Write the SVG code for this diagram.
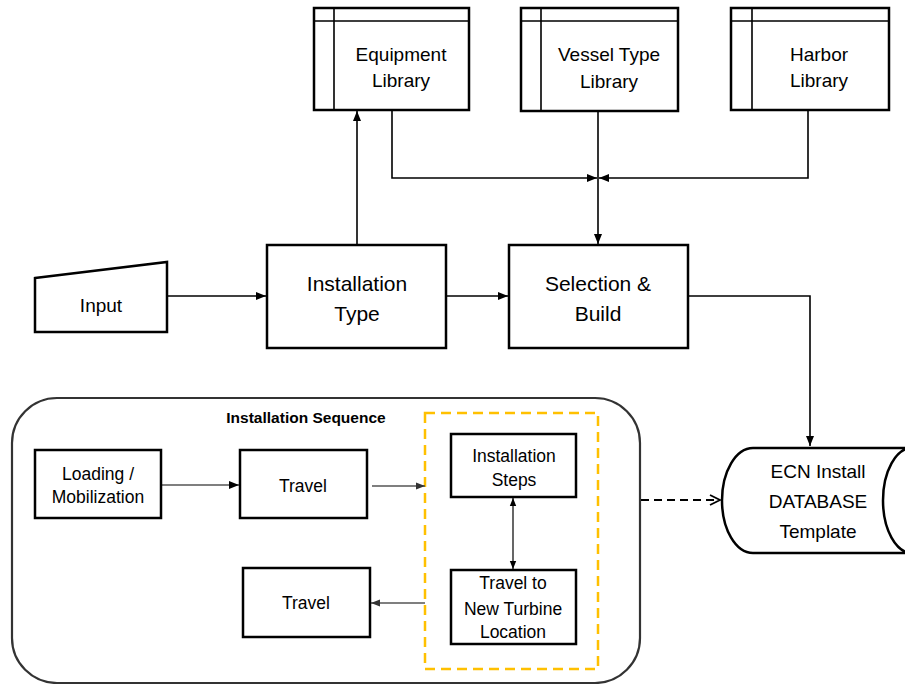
<svg xmlns="http://www.w3.org/2000/svg" width="905" height="684" viewBox="0 0 905 684">
<style>
.box{fill:#fff;stroke:#000;stroke-width:2.5}
.sbox{fill:#fff;stroke:#000;stroke-width:2.5}
.t{font-family:"Liberation Sans",Arial,sans-serif;fill:#000;text-anchor:middle}
.big{font-size:21px}
.lib{font-size:19px}
.sm{font-size:17.5px}
.hdr{font-size:15.5px;font-weight:bold}
.ln{fill:none;stroke:#000;stroke-width:1.6}
.thin{fill:none;stroke:#000;stroke-width:1.2}
.gray{fill:none;stroke:#555;stroke-width:1.4}
</style>
<defs>
<marker id="ah" markerUnits="userSpaceOnUse" markerWidth="10" markerHeight="10" viewBox="0 0 10 10" refX="10" refY="5" orient="auto">
<path d="M0,1 L10,5 L0,9 Z" fill="#000"/>
</marker>
<marker id="ahs" markerUnits="userSpaceOnUse" markerWidth="8" markerHeight="8" viewBox="0 0 10 10" refX="10" refY="5" orient="auto-start-reverse">
<path d="M0,1 L10,5 L0,9 Z" fill="#000"/>
</marker>
<marker id="ahg" markerUnits="userSpaceOnUse" markerWidth="9" markerHeight="9" viewBox="0 0 10 10" refX="10" refY="5" orient="auto">
<path d="M0,1 L10,5 L0,9 Z" fill="#333"/>
</marker>
<marker id="open" markerUnits="userSpaceOnUse" markerWidth="12" markerHeight="12" viewBox="0 0 12 12" refX="11" refY="6" orient="auto">
<path d="M1,1 L11,6 L1,11" fill="none" stroke="#000" stroke-width="1.8"/>
</marker>
</defs>

<g id="container-installation-sequence">
<rect x="12" y="398" width="628" height="285" rx="45" ry="45" fill="#fff" stroke="#333" stroke-width="2.2"/>
<text class="t hdr" x="306" y="423">Installation Sequence</text>
<rect x="425" y="413" width="173" height="256" fill="none" stroke="#FFC000" stroke-width="2.5" stroke-dasharray="10,6"/>
</g>

<g id="connectors">
<path class="ln" d="M357,244 V111" marker-end="url(#ah)"/>
<path class="ln" d="M392,111 V178 H597" marker-end="url(#ah)"/>
<path class="ln" d="M808,111 V178 H599" marker-end="url(#ah)"/>
<path class="ln" d="M598,111 V244" marker-end="url(#ah)"/>
<path class="ln" d="M167,296 H266" marker-end="url(#ah)"/>
<path class="ln" d="M446,296 H508" marker-end="url(#ah)"/>
<path class="ln" d="M688,296 H810 V446" marker-end="url(#ah)"/>
<path fill="none" stroke="#000" stroke-width="1.8" stroke-dasharray="8,5" d="M641,500 H720" marker-end="url(#open)"/>
<path class="thin" d="M161,485 H239" marker-end="url(#ah)"/>
<path class="gray" d="M372,486 H425" marker-end="url(#ahg)"/>
<path class="gray" d="M425,603 H371" marker-end="url(#ahg)"/>
<path class="thin" d="M513,498 V569" marker-start="url(#ahs)" marker-end="url(#ahs)"/>
</g>

<g id="equipment-library">
<rect class="box" x="314" y="8" width="155" height="102"/>
<path class="ln" d="M314,21 H469 M334,8 V110" stroke-width="2"/>
<text class="t lib" x="401" y="61">Equipment</text>
<text class="t lib" x="401" y="87">Library</text>
</g>

<g id="vessel-type-library">
<rect class="box" x="521" y="8" width="157" height="103"/>
<path class="ln" d="M521,21 H678 M541,8 V111" stroke-width="2"/>
<text class="t lib" x="609" y="61">Vessel Type</text>
<text class="t lib" x="609" y="88">Library</text>
</g>

<g id="harbor-library">
<rect class="box" x="731" y="8" width="158" height="102"/>
<path class="ln" d="M731,21 H889 M752,8 V110" stroke-width="2"/>
<text class="t lib" x="819" y="61">Harbor</text>
<text class="t lib" x="819" y="87">Library</text>
</g>

<g id="input">
<path class="box" d="M35,278 L167,262 L167,332 L35,332 Z"/>
<text class="t lib" x="101" y="312">Input</text>
</g>

<g id="installation-type">
<rect class="box" x="267" y="245" width="179" height="103"/>
<text class="t big" x="357" y="291">Installation</text>
<text class="t big" x="357" y="321">Type</text>
</g>

<g id="selection-build">
<rect class="box" x="509" y="245" width="179" height="103"/>
<text class="t big" x="598" y="291">Selection &amp;</text>
<text class="t big" x="598" y="321">Build</text>
</g>

<g id="ecn-database">
<path class="box" d="M753,448 H912 A29,52.5 0 0,0 912,553 H753 A31,52.5 0 0,1 753,448 Z"/>
<text class="t lib" x="818" y="478">ECN Install</text>
<text class="t lib" x="818" y="508">DATABASE</text>
<text class="t lib" x="818" y="538">Template</text>
</g>

<g id="loading-mobilization">
<rect class="sbox" x="35" y="450" width="126" height="68"/>
<text class="t sm" x="98" y="480">Loading /</text>
<text class="t sm" x="98" y="503">Mobilization</text>
</g>

<g id="travel-1">
<rect class="sbox" x="240" y="450" width="127" height="68"/>
<text class="t sm" x="303" y="492">Travel</text>
</g>

<g id="installation-steps">
<rect class="sbox" x="451" y="434" width="125" height="63"/>
<text class="t sm" x="514" y="462">Installation</text>
<text class="t sm" x="514" y="486">Steps</text>
</g>

<g id="travel-new-turbine">
<rect class="sbox" x="451" y="570" width="125" height="74"/>
<text class="t sm" x="513" y="589">Travel to</text>
<text class="t sm" x="513" y="615">New Turbine</text>
<text class="t sm" x="513" y="638">Location</text>
</g>

<g id="travel-2">
<rect class="sbox" x="243" y="568" width="127" height="69"/>
<text class="t sm" x="306" y="609">Travel</text>
</g>
</svg>
